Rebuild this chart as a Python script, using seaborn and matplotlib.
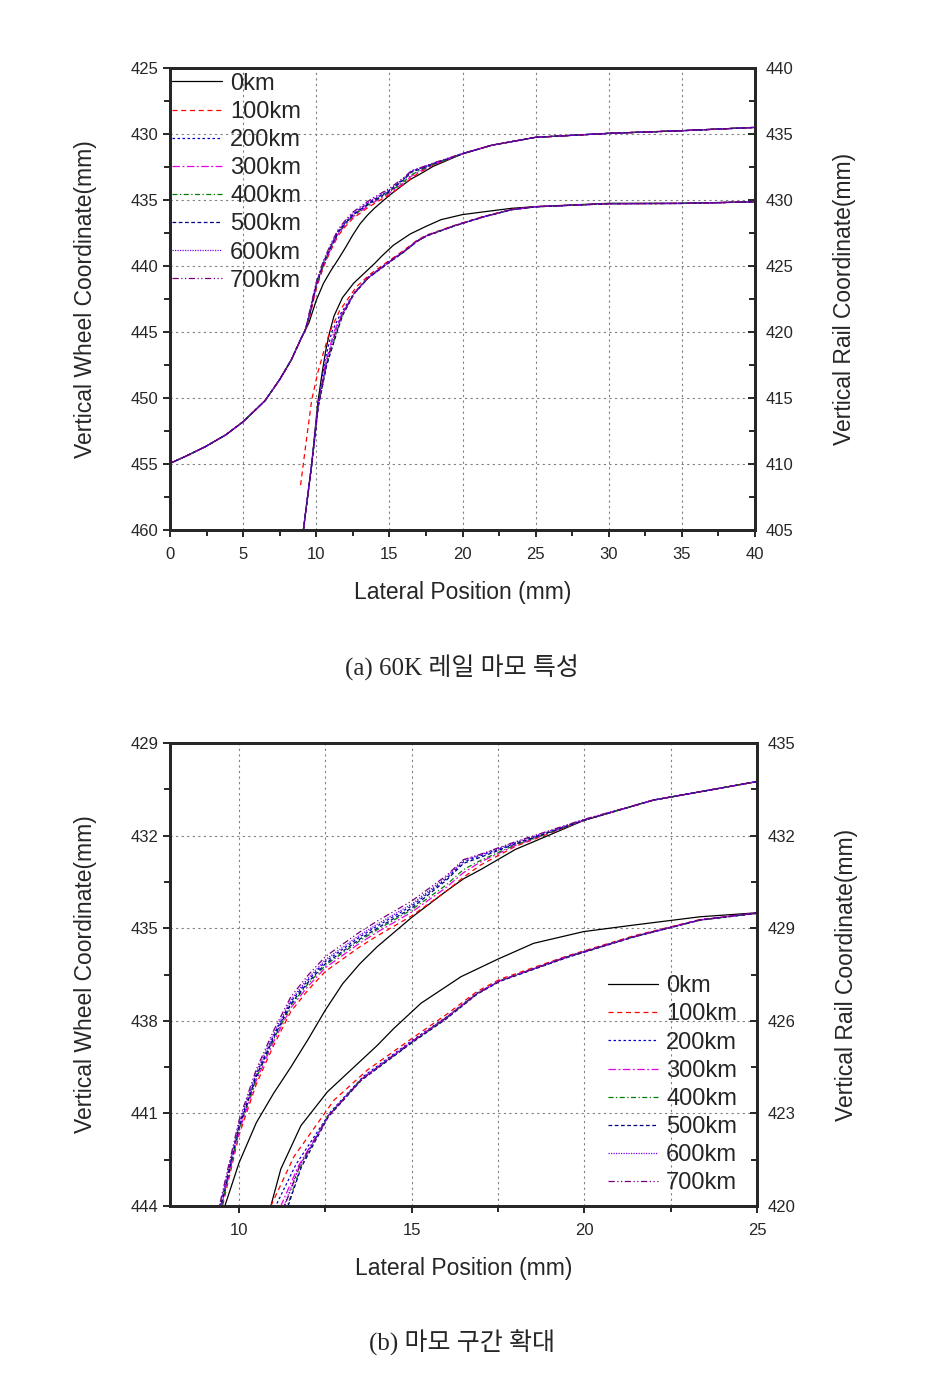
import matplotlib
matplotlib.use('Agg')
import matplotlib.pyplot as plt
from matplotlib.ticker import MultipleLocator
import seaborn as sns

sns.set_style('ticks')
plt.rcParams['font.family'] = ['Liberation Sans', 'DejaVu Sans']

# --- data ----------------------------------------------------------------
labels = ['0km', '100km', '200km', '300km', '400km', '500km', '600km', '700km']
colors = ['#000000', '#FF0000', '#0000CC', '#E800E8', '#007F00', '#000080', '#7A00F0', '#7A0080']
styles = ['-', (0, (4, 3)), (0, (2, 2)), (0, (6, 2, 1.5, 2)), (0, (4, 2, 1, 2)),
          (0, (3, 2)), (0, (1, 1)), (0, (5, 2, 1, 2, 1, 2))]

# wheel profile (left axis), same for all runs up to x = 9.25
wheel_head_x = [0, 1, 2.4, 3.8, 5, 6.5, 7.5, 8.3, 9, 9.25]
wheel_head = [454.95, 454.45, 453.7, 452.8, 451.8, 450.2, 448.6, 447.1, 445.4, 444.85]
wheel_tail_x = [9.5, 10, 10.5, 11, 11.5, 12, 12.5, 13, 13.5, 14, 15, 16, 16.5, 17, 18, 20, 22, 25, 30, 35, 40]

wheel_0km = [444.3, 442.6, 441.3, 440.35, 439.5, 438.6, 437.65, 436.8, 436.15, 435.6, 434.65, 433.8, 433.4, 433.1, 432.45, 431.5, 430.85, 430.25, 429.95, 429.75, 429.5]
wheel_100km = [444.1, 441.7, 440.05, 438.8, 437.7, 437.0, 436.4, 436.0, 435.6, 435.25, 434.6, 433.8, 433.35, 432.95, 432.35, 431.5, 430.85, 430.25, 429.95, 429.75, 429.5]
wheel_200km = [443.8, 441.38, 439.73, 438.48, 437.38, 436.68, 436.08, 435.68, 435.28, 434.93, 434.28, 433.4, 432.85, 432.65, 432.25, 431.5, 430.85, 430.25, 429.95, 429.75, 429.5]
wheel_300km = [444.0, 441.58, 439.93, 438.68, 437.58, 436.88, 436.28, 435.88, 435.48, 435.13, 434.48, 433.68, 433.2, 432.85, 432.32, 431.5, 430.85, 430.25, 429.95, 429.75, 429.5]
wheel_400km = [443.95, 441.5, 439.85, 438.6, 437.5, 436.8, 436.2, 435.8, 435.4, 435.05, 434.4, 433.6, 433.1, 432.8, 432.3, 431.5, 430.85, 430.25, 429.95, 429.75, 429.5]
wheel_500km = [443.9, 441.45, 439.8, 438.55, 437.45, 436.75, 436.15, 435.75, 435.35, 435.0, 434.35, 433.45, 432.9, 432.7, 432.27, 431.5, 430.85, 430.25, 429.95, 429.75, 429.5]
wheel_600km = [443.75, 441.32, 439.67, 438.42, 437.32, 436.62, 436.02, 435.62, 435.22, 434.87, 434.22, 433.35, 432.8, 432.62, 432.22, 431.48, 430.85, 430.25, 429.95, 429.75, 429.5]
wheel_700km = [443.65, 441.22, 439.57, 438.32, 437.22, 436.52, 435.92, 435.52, 435.12, 434.77, 434.12, 433.3, 432.78, 432.6, 432.2, 431.47, 430.85, 430.25, 429.95, 429.75, 429.5]

# rail profile (right axis)
rail_x_0km = [9.12, 9.69, 10.1, 10.4, 10.65, 10.92, 11.21, 11.79, 12.56, 13.52, 14.0, 14.48, 15.27, 16.43, 17.5, 18.53, 19.98, 21.42, 23.35, 25, 30, 35, 40]
rail_0km = [405, 410.0, 414.6, 416.9, 418.6, 420.0, 421.2, 422.6, 423.7, 424.7, 425.2, 425.75, 426.57, 427.43, 428.0, 428.51, 428.89, 429.1, 429.37, 429.5, 429.75, 429.75, 429.87]

rail_x_100km = [8.93, 9.3, 9.69, 10.1, 10.48, 10.92, 11.59, 12.75, 13.71, 14.97, 16.0, 16.89, 17.56, 19.5, 21.42, 23.35, 25, 30, 35, 40]
rail_100km = [408.4, 411.6, 414.85, 416.9, 418.4, 420.0, 421.6, 423.43, 424.4, 425.4, 426.2, 426.95, 427.35, 428.1, 428.75, 429.28, 429.5, 429.72, 429.74, 429.86]

rail_x_tail = [14.97, 16.0, 16.89, 17.56, 19.5, 21.42, 23.35, 25, 30, 35, 40]

rail_x_200km = [9.12, 9.69, 10.14, 10.6, 11.06, 11.65, 12.65, 13.6]
rail_200km = [405, 410.05, 414.6, 417.9, 420.0, 421.35, 423.05, 424.2, 425.33, 426.12, 426.9, 427.3, 428.08, 428.73, 429.27, 429.49, 429.72, 429.74, 429.86]
rail_x_300km = [9.12, 9.69, 10.14, 10.65, 11.21, 11.72, 12.6, 13.55]
rail_300km = [405, 410.0, 414.5, 417.7, 420.0, 421.3, 422.95, 424.12, 425.3, 426.1, 426.88, 427.3, 428.07, 428.72, 429.27, 429.49, 429.72, 429.74, 429.86]
rail_x_400km = [9.12, 9.69, 10.14, 10.7, 11.4, 11.79, 12.56, 13.52]
rail_400km = [405, 409.95, 414.4, 417.5, 420.0, 421.28, 422.9, 424.08, 425.27, 426.08, 426.87, 427.3, 428.06, 428.72, 429.26, 429.48, 429.72, 429.74, 429.86]
rail_x_500km = [9.12, 9.69, 10.14, 10.72, 11.42, 11.8, 12.58, 13.53]
rail_500km = [405, 409.9, 414.35, 417.5, 420.0, 421.25, 422.88, 424.06, 425.26, 426.06, 426.86, 427.28, 428.05, 428.71, 429.26, 429.48, 429.72, 429.74, 429.86]
rail_x_600km = [9.12, 9.69, 10.14, 10.68, 11.3, 11.75, 12.6, 13.55]
rail_600km = [405, 410.0, 414.45, 417.6, 420.0, 421.3, 422.95, 424.1, 425.3, 426.1, 426.88, 427.3, 428.07, 428.72, 429.27, 429.49, 429.72, 429.74, 429.86]
rail_x_700km = [9.12, 9.69, 10.14, 10.68, 11.32, 11.76, 12.6, 13.55]
rail_700km = [405, 410.0, 414.45, 417.6, 420.0, 421.3, 422.93, 424.1, 425.29, 426.1, 426.88, 427.3, 428.07, 428.72, 429.27, 429.49, 429.72, 429.74, 429.86]

wheel_data = [wheel_0km, wheel_100km, wheel_200km, wheel_300km,
              wheel_400km, wheel_500km, wheel_600km, wheel_700km]
rail_xs = [rail_x_0km, rail_x_100km,
           rail_x_200km + rail_x_tail, rail_x_300km + rail_x_tail,
           rail_x_400km + rail_x_tail, rail_x_500km + rail_x_tail,
           rail_x_600km + rail_x_tail, rail_x_700km + rail_x_tail]
rail_data = [rail_0km, rail_100km, rail_200km, rail_300km,
             rail_400km, rail_500km, rail_600km, rail_700km]

wheel_x = wheel_head_x + wheel_tail_x

fig = plt.figure(figsize=(9.33, 13.74), dpi=100)
W, H = 933, 1374


def panel(rect, xlim, xmaj, wlim, rlim, ymaj, legend_loc, legend_anchor, xgrid_minor):
    l, t, r, b = rect
    ax = fig.add_axes([l / W, 1 - b / H, (r - l) / W, (b - t) / H])
    axr = ax.twinx()
    for i in range(len(labels)):
        sns.lineplot(x=wheel_x, y=wheel_head + wheel_data[i], ax=ax, color=colors[i],
                     linestyle=styles[i], lw=0.9, label=labels[i], estimator=None, sort=False)
        sns.lineplot(x=rail_xs[i], y=rail_data[i], ax=axr, color=colors[i],
                     linestyle=styles[i], lw=0.9, estimator=None, sort=False)
    if ax.get_legend() is not None:
        ax.get_legend().remove()

    ax.set_xlim(*xlim)
    ax.set_ylim(*wlim)
    axr.set_ylim(*rlim)
    ax.xaxis.set_major_locator(MultipleLocator(xmaj))
    ax.xaxis.set_minor_locator(MultipleLocator(2.5))
    ax.yaxis.set_major_locator(MultipleLocator(ymaj))
    ax.yaxis.set_minor_locator(MultipleLocator(ymaj / 2))
    axr.yaxis.set_major_locator(MultipleLocator(ymaj))
    axr.yaxis.set_minor_locator(MultipleLocator(ymaj / 2))

    gkw = dict(color='#808080', linestyle=(0, (2, 3)), lw=0.8)
    ax.grid(True, which='major', **gkw)
    if xgrid_minor:
        ax.xaxis.grid(True, which='minor', **gkw)
    axr.grid(False)

    for a in (ax, axr):
        for sp in a.spines.values():
            sp.set_linewidth(2.0)
            sp.set_visible(True)
    ax.tick_params(axis='both', which='major', direction='out', length=5, width=1.4, labelsize=12)
    ax.tick_params(axis='x', which='major', pad=7)
    ax.tick_params(axis='both', which='minor', direction='out', length=4, width=1.4)
    axr.tick_params(axis='y', which='major', direction='in', length=5, width=1.4, labelsize=12, pad=8)
    axr.tick_params(axis='y', which='minor', direction='in', length=4, width=1.4)

    ax.set_xlabel('Lateral Position (mm)', fontsize=16.5, labelpad=14)
    ax.set_ylabel('Vertical Wheel Coordinate(mm)', fontsize=16.5, labelpad=24)
    axr.set_ylabel('Vertical Rail Coordinate(mm)', fontsize=16.5, labelpad=28)

    handles, labs = ax.get_legend_handles_labels()
    axr.legend(handles, labs, loc=legend_loc, bbox_to_anchor=legend_anchor, frameon=False,
               fontsize=17, handlelength=2.1, handletextpad=0.35, labelspacing=0.26,
               borderpad=0.2, borderaxespad=0)
    return ax, axr


panel((170, 68, 755, 530), (0, 40), 5, (460, 425), (405, 440), 5,
      'upper left', (-0.004, 1.0), False)
panel((170, 743, 757, 1206), (8, 25), 5, (444, 429), (420, 435), 3,
      'lower right', (0.974, 0.015), True)

cap_font = ['Liberation Serif', 'Noto Sans CJK KR']
fig.text(0.495, 1 - 668 / H, '(a) 60K 레일 마모 특성', ha='center', va='center',
         fontsize=18, family=cap_font)
fig.text(0.495, 1 - 1343 / H, '(b) 마모 구간 확대', ha='center', va='center',
         fontsize=18, family=cap_font)

fig.savefig('out.png', dpi=100)
